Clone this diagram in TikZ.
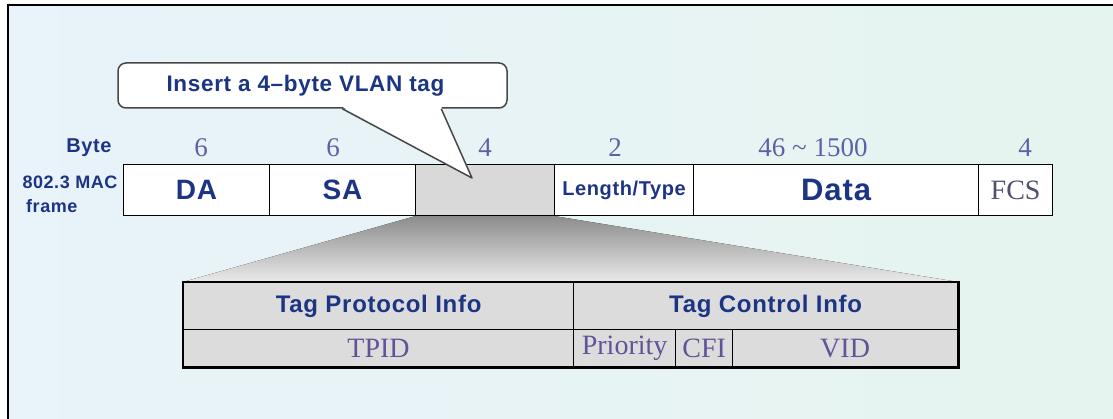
\documentclass[tikz,border=0pt]{standalone}
\usepackage{fontspec}
\setmainfont{Liberation Serif}
\newfontfamily\lblfont[LetterSpace=3]{Liberation Sans}
\usetikzlibrary{backgrounds}

\definecolor{lblblue}{RGB}{28,52,132}
\definecolor{numblue}{RGB}{96,96,168}
\definecolor{tblpurple}{RGB}{98,82,150}
\definecolor{fcsgray}{RGB}{78,80,110}
\definecolor{taggray}{RGB}{217,217,217}
\definecolor{tblgray}{RGB}{220,220,220}
\definecolor{bgblue}{RGB}{232,243,250}
\definecolor{bgmint}{RGB}{230,244,239}

\begin{document}
\begin{tikzpicture}
	[x=1pt, y=-1pt,
	field/.style={draw, line width=1.2pt, fill=white, anchor=north west,
		minimum height=51pt, inner sep=0pt, text=lblblue,
		font=\lblfont\bfseries\fontsize{28}{28}\selectfont},
	bytenum/.style={text=numblue, inner sep=0pt, font=\fontsize{27}{27}\selectfont},
	sidelbl/.style={text=lblblue, inner sep=0pt, font=\lblfont\bfseries\fontsize{18}{18}\selectfont},
	tcell/.style={draw, line width=1.2pt, fill=tblgray, anchor=north west, inner sep=0pt},
	thead/.style={tcell, minimum height=47pt, text=lblblue,
		font=\lblfont\bfseries\fontsize{24}{24}\selectfont},
	tsub/.style={tcell, minimum height=37pt, text=tblpurple, font=\fontsize{28}{28}\selectfont}]

	\useasboundingbox (0,0) rectangle (1113,419);

	% Draw MAC frame
	\node[field, minimum width=146pt] (da) at (123,164) {DA};
	\node[field, minimum width=146pt] (sa) at (269,164) {SA};
	\node[field, minimum width=139pt, fill=taggray] (tag) at (415,164) {};
	\node[field, minimum width=139pt, font=\lblfont\bfseries\fontsize{20}{20}\selectfont] (len) at (554,164) {Length/Type};
	\node[field, minimum width=285pt, font=\lblfont\bfseries\fontsize{31}{31}\selectfont] (data) at (693,164) {Data};
	\node[field, minimum width=74pt, text=fcsgray, font=\fontsize{28}{28}\selectfont] (fcs) at (978,164) {FCS};

	% Byte counts
	\node[sidelbl, font=\lblfont\bfseries\fontsize{20}{20}\selectfont] (byte) at (89,148) {Byte};
	\foreach \x/\n/\name in {201/6/nda, 333/6/nsa, 485/4/ntag, 615/2/nlen, 813/{46 \textasciitilde\ 1500}/ndata, 1025/4/nfcs}
		\node[bytenum] (\name) at (\x,148) {\n};

	\node[sidelbl] (mac) at (70,182) {802.3 MAC};
	\node[sidelbl, anchor=base west] (macf) at (26,213) {frame};

	% Callout
	\node[draw=black!72, line width=1.5pt, fill=white, rounded corners=8pt,
		minimum width=389pt, minimum height=45pt, text=lblblue,
		font=\lblfont\bfseries\fontsize{22.5}{22.5}\selectfont] (ins) at (312.5,85.5) {Insert a 4–byte VLAN tag\hspace*{14pt}};
	\coordinate (tip) at (472,178);
	\fill[white] ([xshift=225pt, yshift=2pt]ins.south west) -- (tip) -- ([xshift=324pt, yshift=2pt]ins.south west) -- cycle;
	\draw[black!72, line width=1.5pt, line join=round] ([xshift=225pt]ins.south west) -- (tip) -- ([xshift=324pt]ins.south west);

	% Tag table
	\node[thead, minimum width=390pt] (tpi) at (183,282) {Tag Protocol Info};
	\node[thead, minimum width=384pt] (tci) at (573,282) {Tag Control Info};
	\node[tsub, minimum width=390pt] (tpid) at (183,329) {TPID};
	\node[tsub, minimum width=102pt] (pri) at (573,329) {Priority};
	\node[tsub, minimum width=57pt] (cfi) at (675,329) {CFI};
	\node[tsub, minimum width=225pt] (vid) at (732,329) {VID};
	\draw[line width=2.6pt] (tpi.north west) rectangle (vid.south east);

	\begin{pgfonlayer}{background}
		% Backdrop
		\fill[left color=bgblue, middle color=white, right color=bgmint] (8,5) rectangle (1113,419);
		\draw[line width=2pt] (8,419) -- (8,5) -- (1113,5);
		% Zoom into tag
		\fill[top color=black!45, bottom color=black!8] (tag.south west) -- (tag.south east) -- (tci.north east) -- (tpi.north west) -- cycle;
	\end{pgfonlayer}

\end{tikzpicture}
\end{document}
